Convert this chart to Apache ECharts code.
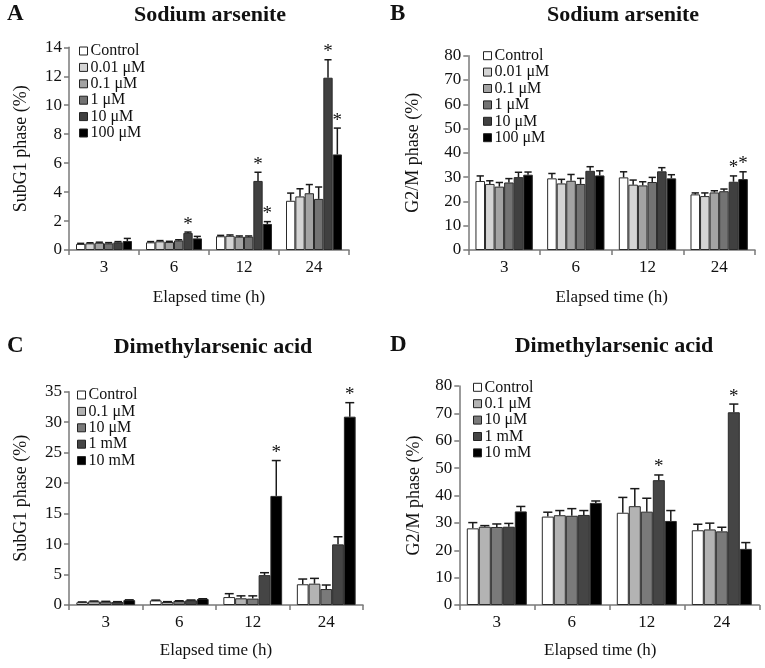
<!DOCTYPE html>
<html>
<head>
<meta charset="utf-8">
<script src="https://cdn.jsdelivr.net/npm/echarts@6/dist/echarts.min.js"></script>
<style>
html,body{margin:0;padding:0;background:#fff;}
.p{position:absolute;}
</style>
</head>
<body>
<div id="pa" class="p" style="left:0;top:0;width:382px;height:334px;"></div>
<div id="pb" class="p" style="left:382px;top:0;width:383px;height:334px;"></div>
<div id="pc" class="p" style="left:0;top:334px;width:382px;height:334px;"></div>
<div id="pd" class="p" style="left:382px;top:334px;width:383px;height:334px;"></div>
<script>
// ---------- data ----------
const categories = ['3', '6', '12', '24'];

// Panel A: Sodium arsenite, SubG1 (%)
const namesA = ['Control', '0.01 μM', '0.1 μM', '1 μM', '10 μM', '100 μM'];
const valuesA = [
  [0.42, 0.53, 0.95, 3.40],
  [0.46, 0.60, 0.98, 3.70],
  [0.50, 0.55, 0.92, 3.92],
  [0.46, 0.66, 0.92, 3.53],
  [0.53, 1.18, 4.77, 11.90],
  [0.62, 0.80, 1.80, 6.60]
];
const errorsA = [
  [0.04, 0.05, 0.06, 0.53],
  [0.04, 0.05, 0.06, 0.53],
  [0.04, 0.05, 0.05, 0.60],
  [0.05, 0.05, 0.05, 0.82],
  [0.05, 0.06, 0.60, 1.24],
  [0.18, 0.14, 0.16, 1.82]
];
const starsA = [
  [0, 0, 0, 0], [0, 0, 0, 0], [0, 0, 0, 0], [0, 0, 0, 0],
  [0, 1, 1, 1], [0, 0, 1, 1]
];

// Panel B: Sodium arsenite, G2/M (%)
const namesB = ['Control', '0.01 μM', '0.1 μM', '1 μM', '10 μM', '100 μM'];
const valuesB = [
  [28.4, 29.5, 29.9, 22.9],
  [27.2, 27.4, 26.9, 22.2],
  [26.1, 28.5, 26.6, 23.7],
  [27.8, 27.2, 28.0, 24.2],
  [30.0, 32.6, 32.4, 28.1],
  [31.0, 30.7, 29.5, 29.2]
];
const errorsB = [
  [2.1, 2.0, 2.3, 0.6],
  [1.3, 1.7, 1.9, 1.3],
  [1.7, 2.6, 1.5, 0.7],
  [1.6, 2.3, 1.9, 0.9],
  [2.0, 1.7, 1.5, 2.4],
  [1.1, 1.9, 1.5, 3.0]
];
const starsB = [
  [0, 0, 0, 0], [0, 0, 0, 0], [0, 0, 0, 0], [0, 0, 0, 0],
  [0, 0, 0, 1], [0, 0, 0, 1]
];

// Panel C: Dimethylarsenic acid, SubG1 (%)
const namesC = ['Control', '0.1 μM', '10 μM', '1 mM', '10 mM'];
const valuesC = [
  [0.45, 0.75, 1.30, 3.40],
  [0.60, 0.50, 1.10, 3.50],
  [0.55, 0.65, 1.05, 2.62],
  [0.50, 0.77, 4.90, 9.95],
  [0.80, 0.98, 17.9, 30.9]
];
const errorsC = [
  [0.05, 0.05, 0.56, 0.86],
  [0.05, 0.05, 0.40, 0.87],
  [0.05, 0.05, 0.45, 0.66],
  [0.05, 0.05, 0.40, 1.25],
  [0.05, 0.05, 5.80, 2.30]
];
const starsC = [
  [0, 0, 0, 0], [0, 0, 0, 0], [0, 0, 0, 0], [0, 0, 0, 0],
  [0, 0, 1, 1]
];

// Panel D: Dimethylarsenic acid, G2/M (%)
const namesD = ['Control', '0.1 μM', '10 μM', '1 mM', '10 mM'];
const valuesD = [
  [28.0, 32.3, 33.7, 27.3],
  [28.6, 32.8, 36.1, 27.6],
  [28.5, 32.6, 34.1, 26.9],
  [28.6, 32.9, 45.6, 70.4],
  [34.2, 37.3, 30.7, 20.5]
];
const errorsD = [
  [2.1, 1.6, 5.6, 2.2],
  [0.4, 1.7, 6.4, 2.3],
  [1.1, 2.6, 4.9, 1.5],
  [1.2, 1.6, 1.9, 3.0],
  [1.8, 0.7, 3.8, 2.3]
];
const starsD = [
  [0, 0, 0, 0], [0, 0, 0, 0], [0, 0, 0, 0],
  [0, 0, 1, 1], [0, 0, 0, 0]
];

const colors6 = ['#ffffff', '#d4d4d4', '#a3a3a3', '#737373', '#404040', '#000000'];
const colors5 = ['#ffffff', '#b3b3b3', '#7a7a7a', '#454545', '#000000'];

// ---------- drawing ----------
const FONT = '"Liberation Serif", "Times New Roman", serif';
const CAT_GAP = 0.2;

function makeErrRender(si, n) {
  return function (params, api) {
    const cat = api.value(0), v = api.value(1), e = api.value(2), star = api.value(3);
    const base = api.coord([cat, v]);
    const top = api.coord([cat, v + e]);
    const catW = api.size([1, 0])[0];
    const bw = catW * (1 - CAT_GAP) / n;
    const x = base[0] - catW * (1 - CAT_GAP) / 2 + bw * (si + 0.5);
    const cap = bw * 0.38;
    const lineStyle = { stroke: '#1a1a1a', lineWidth: 1.5 };
    const children = [
      { type: 'line', shape: { x1: x, y1: base[1], x2: x, y2: top[1] }, style: lineStyle },
      { type: 'line', shape: { x1: x - cap, y1: top[1], x2: x + cap, y2: top[1] }, style: lineStyle }
    ];
    if (star) {
      children.push({
        type: 'text',
        style: { text: '*', x: x, y: top[1] + 2, align: 'center', verticalAlign: 'bottom',
                 font: '19px ' + FONT, fill: '#111' }
      });
    }
    return { type: 'group', children: children };
  };
}

function panel(id, cfg) {
  const chart = echarts.init(document.getElementById(id), null, { renderer: 'canvas' });
  const n = cfg.names.length;
  const series = [];
  cfg.names.forEach(function (name, i) {
    series.push({
      name: name, type: 'bar', data: cfg.values[i],
      barGap: '0%', barCategoryGap: (CAT_GAP * 100) + '%',
      itemStyle: { color: cfg.colors[i], borderColor: '#2a2a2a', borderWidth: 1 },
      animation: false
    });
  });
  cfg.names.forEach(function (name, i) {
    series.push({
      type: 'custom', name: name + ' error', clip: false, z: 5,
      renderItem: makeErrRender(i, n),
      encode: { x: 0, y: 1 },
      data: cfg.values[i].map(function (v, k) { return [k, v, cfg.errors[i][k], cfg.stars[i][k]]; }),
      animation: false, silent: true
    });
  });
  chart.setOption({
    animation: false,
    backgroundColor: '#fff',
    textStyle: { fontFamily: FONT },
    graphic: [
      { type: 'text', left: cfg.letterX, top: cfg.titleY - 12,
        style: { text: cfg.letter, font: 'bold 23px ' + FONT, fill: '#111' } },
      { type: 'text', x: cfg.titleX, y: cfg.titleY,
        style: { text: cfg.title, font: 'bold 22px ' + FONT, fill: '#111', align: 'center', verticalAlign: 'middle' } }
    ],
    legend: {
      orient: 'vertical', left: cfg.legendX, top: cfg.legendY, padding: 0,
      data: cfg.names, selectedMode: false,
      icon: 'rect', itemWidth: 8, itemHeight: 8, itemGap: 0.4,
      itemStyle: { borderColor: '#222', borderWidth: 1 },
      textStyle: { fontFamily: FONT, fontSize: 16, lineHeight: 16, color: '#111', padding: [0, 0, 0, -2] }
    },
    grid: { left: cfg.grid[0], top: cfg.grid[1], width: cfg.grid[2], height: cfg.grid[3] },
    xAxis: {
      type: 'category', data: categories,
      name: 'Elapsed time (h)', nameLocation: 'middle', nameGap: cfg.xNameGap,
      nameTextStyle: { fontFamily: FONT, fontSize: 17, color: '#111', padding: cfg.xNamePad || 0 },
      axisLine: { lineStyle: { color: '#7a7a7a', width: 1.5 } },
      axisTick: { show: true, length: 5, lineStyle: { color: '#7a7a7a', width: 1.5 } },
      axisLabel: { fontFamily: FONT, fontSize: 17, color: '#111', margin: 9 }
    },
    yAxis: {
      type: 'value', min: 0, max: cfg.yMax, interval: cfg.yInterval,
      name: cfg.yName, nameLocation: 'middle', nameGap: cfg.yNameGap, nameRotate: 90,
      nameTextStyle: { fontFamily: FONT, fontSize: 18, color: '#111' },
      axisLine: { show: true, lineStyle: { color: '#7a7a7a', width: 1.5 } },
      axisTick: { show: true, length: 5, lineStyle: { color: '#7a7a7a', width: 1.5 } },
      splitLine: { show: false },
      axisLabel: { fontFamily: FONT, fontSize: 17, color: '#111', margin: 7 }
    },
    series: series
  });
}

panel('pa', {
  letter: 'A', letterX: 7, title: 'Sodium arsenite', titleX: 210, titleY: 15,
  names: namesA, values: valuesA, errors: errorsA, stars: starsA, colors: colors6,
  grid: [69, 47.3, 280, 202.7], yMax: 14, yInterval: 2,
  yName: 'SubG1 phase (%)', yNameGap: 39, xNameGap: 39,
  legendX: 79, legendY: 43
});
panel('pb', {
  letter: 'B', letterX: 8, title: 'Sodium arsenite', titleX: 241, titleY: 15,
  names: namesB, values: valuesB, errors: errorsB, stars: starsB, colors: colors6,
  grid: [86.3, 55.7, 286.7, 194.3], yMax: 80, yInterval: 10,
  yName: 'G2/M phase (%)', yNameGap: 46, xNameGap: 39,
  legendX: 101, legendY: 47.7
});
panel('pc', {
  letter: 'C', letterX: 7, title: 'Dimethylarsenic acid', titleX: 213, titleY: 13,
  names: namesC, values: valuesC, errors: errorsC, stars: starsC, colors: colors5,
  grid: [69, 57.7, 294, 213.3], yMax: 35, yInterval: 5,
  yName: 'SubG1 phase (%)', yNameGap: 39, xNameGap: 37,
  legendX: 77, legendY: 53
});
panel('pd', {
  letter: 'D', letterX: 8, title: 'Dimethylarsenic acid', titleX: 232, titleY: 12,
  names: namesD, values: valuesD, errors: errorsD, stars: starsD, colors: colors5,
  grid: [77.3, 52, 300, 219], yMax: 80, yInterval: 10,
  yName: 'G2/M phase (%)', yNameGap: 36, xNameGap: 37, xNamePad: [0, 18, 0, 0],
  legendX: 91, legendY: 45.3
});
</script>
</body>
</html>
